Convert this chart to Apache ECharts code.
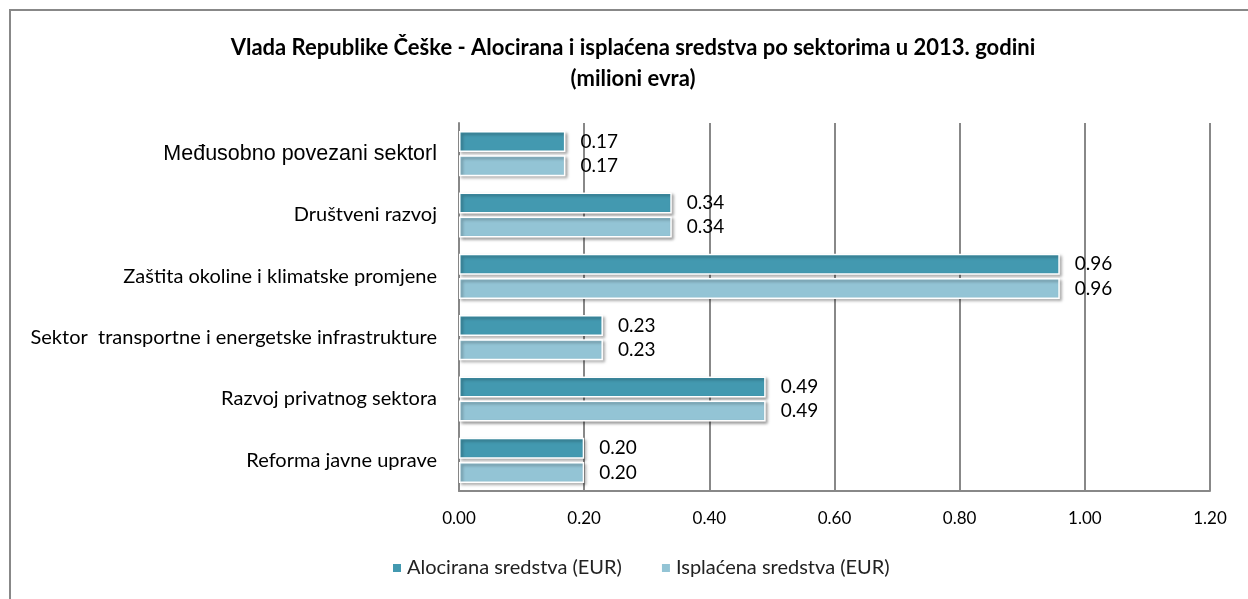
<!DOCTYPE html>
<html>
<head>
<meta charset="utf-8">
<script src="https://cdn.jsdelivr.net/npm/echarts@6/dist/echarts.min.js"></script>
<style>
  html, body { margin: 0; padding: 0; background: #fff; }
  #chart { width: 1248px; height: 599px; }
</style>
</head>
<body>
<div id="chart"></div>
<script>
  var sectors = [
    'Međusobno povezani sektorl',
    'Društveni razvoj',
    'Zaštita okoline i klimatske promjene',
    'Sektor  transportne i energetske infrastrukture',
    'Razvoj privatnog sektora',
    'Reforma javne uprave'
  ];
  var alocirana = [0.17, 0.34, 0.96, 0.23, 0.49, 0.20];
  var isplacena = [0.17, 0.34, 0.96, 0.23, 0.49, 0.20];
  var seriesNames = ['Alocirana sredstva (EUR)', 'Isplaćena sredstva (EUR)'];

  var chartDom = document.getElementById('chart');
  var myChart = echarts.init(chartDom);

  var barStyle = function (color) {
    return {
      color: color,
      borderColor: '#fff',
      borderWidth: 1.5,
      shadowColor: 'rgba(0, 0, 0, 0.35)',
      shadowBlur: 3,
      shadowOffsetX: 2,
      shadowOffsetY: 2
    };
  };

  var valueLabel = {
    show: true,
    position: 'right',
    distance: 15,
    color: '#000',
    fontFamily: 'Lato',
    fontSize: 19,
    formatter: function (p) { return p.value.toFixed(2); }
  };

  var option = {
    animation: false,
    backgroundColor: '#fff',
    graphic: [
      {
        type: 'rect',
        shape: { x: 10, y: 10, width: 1260, height: 620 },
        style: { fill: 'none', stroke: '#888', lineWidth: 2 }
      }
    ],
    title: {
      text: 'Vlada Republike Češke - Alocirana i isplaćena sredstva po sektorima u 2013. godini\n(milioni evra)',
      left: 628,
      textAlign: 'center',
      top: 27,
      textStyle: {
        fontFamily: 'Lato',
        fontWeight: 'bold',
        fontSize: 22,
        lineHeight: 31,
        color: '#000'
      }
    },
    legend: {
      bottom: 16,
      left: 386,
      itemWidth: 10,
      itemHeight: 10,
      itemGap: 38,
      icon: 'rect',
      textStyle: { fontFamily: 'Lato', fontSize: 20, color: '#222' },
      data: seriesNames
    },
    grid: {
      left: 459,
      right: 38,
      top: 123,
      bottom: 108,
      containLabel: false
    },
    xAxis: {
      type: 'value',
      min: 0,
      max: 1.2,
      interval: 0.2,
      axisLine: { show: true, lineStyle: { color: '#888', width: 2 } },
      axisTick: { show: false },
      axisLabel: {
        margin: 19,
        color: '#000',
        fontFamily: 'Lato',
        fontSize: 17,
        formatter: function (v) { return v.toFixed(2); }
      },
      splitLine: { show: true, lineStyle: { color: '#888', width: 2 } }
    },
    yAxis: {
      type: 'category',
      inverse: true,
      data: sectors,
      axisLine: { show: true, lineStyle: { color: '#888', width: 2 } },
      axisTick: { show: false },
      axisLabel: {
        margin: 22,
        color: '#000',
        fontFamily: 'Lato',
        fontSize: 20,
        formatter: function (v, i) {
          return i === 0 ? '{a|' + v + '}' : v;
        },
        rich: {
          a: { fontFamily: 'Liberation Sans', fontSize: 21.5, color: '#000' }
        }
      }
    },
    series: [
      {
        name: seriesNames[0],
        type: 'bar',
        data: alocirana,
        barWidth: 21,
        barGap: '15%',
        itemStyle: barStyle('#4399B0'),
        label: valueLabel
      },
      {
        name: seriesNames[1],
        type: 'bar',
        data: isplacena,
        barWidth: 21,
        barGap: '15%',
        itemStyle: barStyle('#93C4D5'),
        label: valueLabel
      }
    ]
  };

  myChart.setOption(option);
</script>
</body>
</html>
